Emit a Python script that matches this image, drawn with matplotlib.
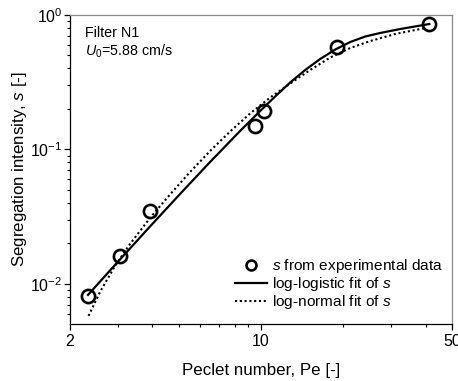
import numpy as np
import matplotlib
matplotlib.use("Agg")
from matplotlib import pyplot as plt
from matplotlib.ticker import LogLocator, FixedLocator, NullFormatter, FixedFormatter

plt.rcParams["font.family"] = ["Liberation Sans", "DejaVu Sans"]
plt.rcParams["mathtext.fontset"] = "custom"
plt.rcParams["mathtext.rm"] = "Liberation Sans"
plt.rcParams["mathtext.it"] = "Liberation Sans:italic"
plt.rcParams["mathtext.default"] = "regular"

#experimental segregation intensity
pe_exp = [2.33, 3.05, 3.93, 9.52, 10.27, 18.97, 41.3]
s_exp = [0.00814, 0.01615, 0.0351, 0.1495, 0.1933, 0.578, 0.857]

#log-logistic fit
pe_ll = [2.328, 3.049, 3.928, 5.059, 6.514, 8.388, 9.932, 11.27, 12.79,
         14.52, 16.47, 18.70, 21.22, 24.07, 27.32, 32.35, 41.31]
s_ll = [0.00828, 0.01521, 0.02676, 0.0467, 0.08075, 0.1373, 0.1933, 0.2478,
        0.3148, 0.3901, 0.4709, 0.5540, 0.6298, 0.6921, 0.7348, 0.7868, 0.8571]

#log-normal fit
pe_ln = [2.338, 2.576, 2.924, 3.318, 3.928, 4.649, 5.503, 6.514, 7.711, 9.126,
         10.81, 12.79, 15.14, 17.92, 21.22, 25.13, 31.01, 39.94]
s_ln = [0.00578, 0.00872, 0.01361, 0.01983, 0.03095, 0.0463, 0.06803, 0.09746,
        0.1361, 0.1852, 0.2435, 0.3095, 0.3901, 0.4831, 0.5684, 0.6407, 0.7225,
        0.8005]

x_major = [2, 10, 50]
x_minor = [3, 4, 5, 6, 7, 8, 9, 20, 30, 40]

fig = plt.figure(figsize=(4.58, 3.81), dpi=100)
ax = fig.add_axes([70/458, 1 - 324/381, 382/458, 309/381])

ax.plot(pe_exp, s_exp, 'o', ms=9.5, mfc='none', mec='black', mew=1.9,
        label='$\\it{s}$ from experimental data', zorder=3)
ax.plot(pe_ll, s_ll, '-', color='black', lw=1.6, label='log-logistic fit of $\\it{s}$')
ax.plot(pe_ln, s_ln, color='black', lw=1.5, ls=(0, (1, 1.3)),
        label='log-normal fit of $\\it{s}$')

ax.set_xscale('log')
ax.set_yscale('log')
ax.set_xlim(2, 50)
ax.set_ylim(0.00503, 1)

ax.xaxis.set_major_locator(FixedLocator(x_major))
ax.xaxis.set_major_formatter(FixedFormatter([str(v) for v in x_major]))
ax.xaxis.set_minor_locator(FixedLocator(x_minor))
ax.xaxis.set_minor_formatter(NullFormatter())
ax.yaxis.set_major_locator(LogLocator(base=10, numticks=10))
ax.yaxis.set_minor_locator(LogLocator(base=10, subs=np.arange(2, 10), numticks=10))
ax.yaxis.set_minor_formatter(NullFormatter())

ax.tick_params(which='major', direction='out', length=4.5, width=0.9, labelsize=11.5)
ax.tick_params(axis='y', which='major', pad=1)
ax.tick_params(axis='x', which='major', pad=3)
ax.tick_params(which='minor', direction='out', length=2.3, width=0.8)

for side in ['top', 'right']:
    ax.spines[side].set_color('#8a8a8a')
for side in ['left', 'bottom']:
    ax.spines[side].set_color('black')
for sp in ax.spines.values():
    sp.set_linewidth(0.9)

ax.set_xlabel('Peclet number, Pe [-]', fontsize=12.2, labelpad=9.5)
ax.set_ylabel('Segregation intensity, $\\it{s}$ [-]', fontsize=12.2, labelpad=1)

ax.text(15/382, 1 - 11/309, 'Filter N1', transform=ax.transAxes, fontsize=10.3, va='top')
ax.text(15/382, 1 - 28/309, '$\\it{U}_0$=5.88 cm/s', transform=ax.transAxes,
        fontsize=10.3, va='top')

ax.legend(loc='lower right', bbox_to_anchor=(1.0, 0.012), frameon=False, fontsize=11.1,
          handlelength=2.05, handletextpad=0.3, labelspacing=0.0, markerscale=0.75,
          borderaxespad=0.2)

fig.savefig('out.png', dpi=100)
